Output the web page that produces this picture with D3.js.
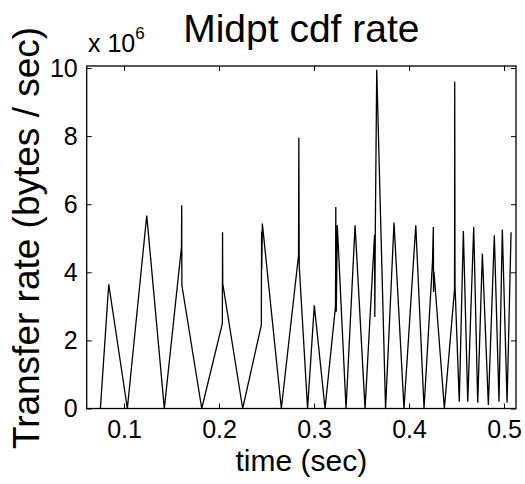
<!DOCTYPE html>
<html>
<head>
<meta charset="utf-8">
<script src="https://cdn.jsdelivr.net/npm/d3@7/dist/d3.min.js"></script>
<style>
  html, body { margin: 0; padding: 0; background: #fff; }
  svg { display: block; }
  text { font-family: "Liberation Sans", Arial, Helvetica, sans-serif; fill: #000; }
</style>
</head>
<body>
<svg id="chart" width="525" height="484"></svg>
<script>
// time (sec)
const times = [
  0.0751, 0.0839, 0.1035, 0.1239, 0.1424,
  0.1605, 0.1607, 0.1609, 0.1818,
  0.2035, 0.2037, 0.2039, 0.2249,
  0.2445, 0.2448, 0.2450, 0.2456, 0.2656,
  0.2837, 0.2840, 0.2844, 0.2932,
  0.3003, 0.3116,
  0.3226, 0.3229, 0.3234, 0.3245, 0.3337,
  0.3432, 0.3537,
  0.3637, 0.3640, 0.3645, 0.3660, 0.3753,
  0.3842, 0.3947, 0.4071, 0.4158,
  0.4247, 0.4256, 0.4258, 0.4263, 0.4372,
  0.4479, 0.4481, 0.4484, 0.4529,
  0.4572, 0.4618, 0.4681, 0.4723, 0.4772, 0.4835,
  0.4898, 0.4947, 0.4982, 0.5032, 0.5074
];
// transfer rate, in units of 10^6 bytes / sec
const rates = [
  0, 3.65, 0, 5.67, 0,
  4.75, 5.97, 3.62, 0,
  2.5, 5.18, 3.67, 0,
  2.45, 5.2, 4.1, 5.43, 0,
  4.5, 7.95, 4.2, 0,
  3.03, 0,
  3.0, 5.92, 2.84, 5.38, 0,
  5.38, 0,
  5.1, 2.69, 5.2, 9.95, 0,
  5.46, 0, 5.38, 0,
  4.3, 5.33, 3.42, 4.0, 0,
  3.5, 9.6, 3.6, 0.2,
  5.21, 0.2, 5.33, 0.17, 4.55, 0.1,
  5.09, 0.2, 5.26, 0.17, 5.18
];
const xTicks = [0.1, 0.2, 0.3, 0.4, 0.5];
const xTickLabels = ["0.1", "0.2", "0.3", "0.4", "0.5"];
const yTicks = [0, 2, 4, 6, 8, 10];
const yTickLabels = ["0", "2", "4", "6", "8", "10"];
const xDomain = [0.0607, 0.5126];
const yDomain = [0, 10.06];
const titleText = "Midpt cdf rate";
const xLabelText = "time (sec)";
const yLabelText = "Transfer rate (bytes / sec)";

const svg = d3.select("#chart");
const L = 86.7, R = 516, T = 66, B = 408.5;
const x = d3.scaleLinear().domain(xDomain).range([L, R]);
const y = d3.scaleLinear().domain(yDomain).range([B, T]);

const data = times.map((t, i) => ({ t, r: rates[i] }));

// data line
svg.append("path")
  .datum(data)
  .attr("fill", "none")
  .attr("stroke", "#000")
  .attr("stroke-width", 1.3)
  .attr("stroke-linejoin", "miter")
  .attr("d", d3.line().x(d => x(d.t)).y(d => y(d.r)));

const tickLen = 5;
// bottom axis
const xb = svg.append("g").attr("transform", `translate(0,${B})`)
  .call(d3.axisBottom(x).tickValues(xTicks).tickSizeInner(-tickLen).tickSizeOuter(0)
    .tickPadding(14).tickFormat((d, i) => xTickLabels[i]));
// top axis
const xt = svg.append("g").attr("transform", `translate(0,${T})`)
  .call(d3.axisTop(x).tickValues(xTicks).tickSizeInner(-tickLen).tickSizeOuter(0).tickFormat(""));
// left axis
const yl = svg.append("g").attr("transform", `translate(${L},0)`)
  .call(d3.axisLeft(y).tickValues(yTicks).tickSizeInner(-tickLen).tickSizeOuter(0)
    .tickPadding(14).tickFormat((d, i) => yTickLabels[i]));
// right axis
const yr = svg.append("g").attr("transform", `translate(${R},0)`)
  .call(d3.axisRight(y).tickValues(yTicks).tickSizeInner(-tickLen).tickSizeOuter(0).tickFormat(""));

[xb, xt, yl, yr].forEach(g => {
  g.select(".domain").remove();
  g.selectAll(".tick line").attr("stroke", "#000").attr("stroke-width", 1);
  g.selectAll(".tick text")
    .style("font-family", '"Liberation Sans", Arial, sans-serif')
    .attr("font-size", 25).attr("fill", "#000");
});
xb.selectAll(".tick text").attr("dy", "0.71em").attr("y", 12);
yl.selectAll(".tick text").attr("x", -9);

// frame
svg.append("rect")
  .attr("x", L).attr("y", T).attr("width", R - L).attr("height", B - T)
  .attr("fill", "none").attr("stroke", "#000").attr("stroke-width", 1.3);

// exponent label
const ex = svg.append("text").attr("x", 88).attr("y", 52).attr("font-size", 25);
ex.append("tspan").text("x 10");
ex.append("tspan").attr("font-size", 17).attr("dy", -13).text("6");

// title
svg.append("text").attr("x", (L + R) / 2).attr("y", 42)
  .attr("text-anchor", "middle").attr("font-size", 39).text(titleText);

// x label
svg.append("text").attr("x", (L + R) / 2).attr("y", 471)
  .attr("text-anchor", "middle").attr("font-size", 30).text(xLabelText);

// y label
svg.append("text")
  .attr("transform", `translate(39,238) rotate(-90)`)
  .attr("text-anchor", "middle").attr("font-size", 37).text(yLabelText);
</script>
</body>
</html>
